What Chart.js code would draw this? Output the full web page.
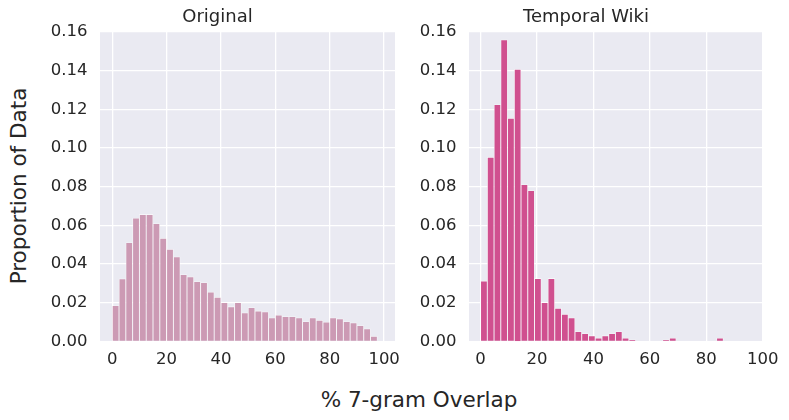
<!DOCTYPE html>
<html>
<head>
<meta charset="utf-8">
<script src="https://cdn.jsdelivr.net/npm/chart.js@4.4.1/dist/chart.umd.min.js"></script>
<style>
  body { margin: 0; background: #ffffff; width: 789px; height: 420px; overflow: hidden; position: relative; font-family: "DejaVu Sans", sans-serif; color: #262626; }
  .panel { position: absolute; top: 0; height: 372px; }
  #left-wrap { left: 40px; width: 360px; }
  #right-wrap { left: 409px; width: 379px; }
  #ylabel { position: absolute; left: 18px; top: 186px; transform: translate(-50%, -50%) rotate(-90deg); font-size: 21.5px; white-space: nowrap; }
  #xlabel { position: absolute; left: 419px; top: 399px; transform: translate(-50%, -50%); font-size: 21.5px; white-space: nowrap; }
</style>
</head>
<body>
<div class="panel" id="left-wrap"><canvas id="origChart"></canvas></div>
<div class="panel" id="right-wrap"><canvas id="wikiChart"></canvas></div>
<div id="ylabel">Proportion of Data</div>
<div id="xlabel">% 7-gram Overlap</div>

<script>
// bin widths (in % overlap) of the two histograms
const origBinWidth = 2.5;
const wikiBinWidth = 2.39;

// proportion of data per bin
const origValues = [
  0.0186, 0.0324, 0.0512, 0.0638, 0.0657, 0.0657, 0.0610, 0.0533, 0.0477, 0.0438,
  0.0346, 0.0334, 0.0310, 0.0305, 0.0256, 0.0229, 0.0201, 0.0180, 0.0201, 0.0148,
  0.0175, 0.0158, 0.0153, 0.0122, 0.0137, 0.0129, 0.0129, 0.0123, 0.0103, 0.0123,
  0.0110, 0.0101, 0.0123, 0.0117, 0.0103, 0.0097, 0.0082, 0.0066, 0.0027
];
const wikiValues = [
  0.0313, 0.0952, 0.1225, 0.1560, 0.1154, 0.1407, 0.0811, 0.0780, 0.0326, 0.0201,
  0.0326, 0.0172, 0.0141, 0.0122, 0.0051, 0.0041, 0.0030, 0.0018, 0.0030, 0.0041,
  0.0051, 0.0018, 0.0008, 0, 0, 0, 0, 0.0008, 0.0018, 0,
  0, 0, 0, 0, 0, 0.0018, 0, 0, 0, 0
];

const xTicks = [0, 20, 40, 60, 80, 100];
const yTicks = [0, 0.02, 0.04, 0.06, 0.08, 0.10, 0.12, 0.14, 0.16];

const panelTitles = ['Original', 'Temporal Wiki'];

// seaborn darkgrid background behind the plot area
const bgPlugin = {
  id: 'plotBg',
  beforeDraw(chart) {
    const { ctx, chartArea } = chart;
    ctx.save();
    ctx.fillStyle = '#eaeaf2';
    ctx.fillRect(chartArea.left, chartArea.top, chartArea.right - chartArea.left, chartArea.bottom - chartArea.top);
    ctx.restore();
  }
};

function toPoints(values, width) {
  return values.map((v, i) => ({ x: (i + 0.5) * width, y: v }));
}

function makeHist(canvasId, title, values, width, color, xMin, xMax, padRight) {
  const ctx = document.getElementById(canvasId).getContext('2d');
  return new Chart(ctx, {
    type: 'bar',
    data: {
      datasets: [{
        data: toPoints(values, width),
        backgroundColor: color,
        borderColor: 'rgba(255,255,255,0.55)',
        borderWidth: 0.8,
        borderSkipped: 'bottom',
        barPercentage: 1.0,
        categoryPercentage: 1.0
      }]
    },
    plugins: [bgPlugin],
    options: {
      responsive: true,
      maintainAspectRatio: false,
      animation: false,
      layout: { padding: { right: padRight, top: 0, bottom: 0, left: 0 } },
      plugins: {
        legend: { display: false },
        tooltip: { enabled: false },
        title: {
          display: true,
          text: title,
          color: '#262626',
          font: { family: 'DejaVu Sans', size: 18, weight: 'normal' },
          padding: { top: 7, bottom: 3.4 }
        }
      },
      scales: {
        x: {
          type: 'linear',
          min: xMin,
          max: xMax,
          offset: false,
          afterBuildTicks(scale) {
            scale.ticks = xTicks.filter(t => t <= xMax).map(t => ({ value: t }));
          },
          afterFit(scale) {
            scale.height = 30.5;
            scale.paddingLeft = 0;
            scale.paddingRight = 0;
          },
          grid: { color: '#ffffff', lineWidth: 1.3, drawTicks: false, offset: false },
          border: { display: false },
          ticks: {
            color: '#262626',
            font: { family: 'DejaVu Sans', size: 16.5 },
            padding: 8,
            maxRotation: 0,
            autoSkip: false
          }
        },
        y: {
          min: 0,
          max: 0.16,
          afterBuildTicks(scale) {
            scale.ticks = yTicks.map(t => ({ value: t }));
          },
          afterFit(scale) {
            scale.width = 60;
            scale.paddingTop = 0;
            scale.paddingBottom = 0;
          },
          grid: { color: '#ffffff', lineWidth: 1.3, drawTicks: false },
          border: { display: false },
          ticks: {
            color: '#262626',
            font: { family: 'DejaVu Sans', size: 16.5 },
            padding: 12.5,
            callback: v => v.toFixed(2)
          }
        }
      }
    }
  });
}

makeHist('origChart', panelTitles[0], origValues, origBinWidth, '#cc9ab4', -4.5, 104, 5);
makeHist('wikiChart', panelTitles[1], wikiValues, wikiBinWidth, '#d0508f', -4.1, 100.1, 25);
</script>
</body>
</html>
